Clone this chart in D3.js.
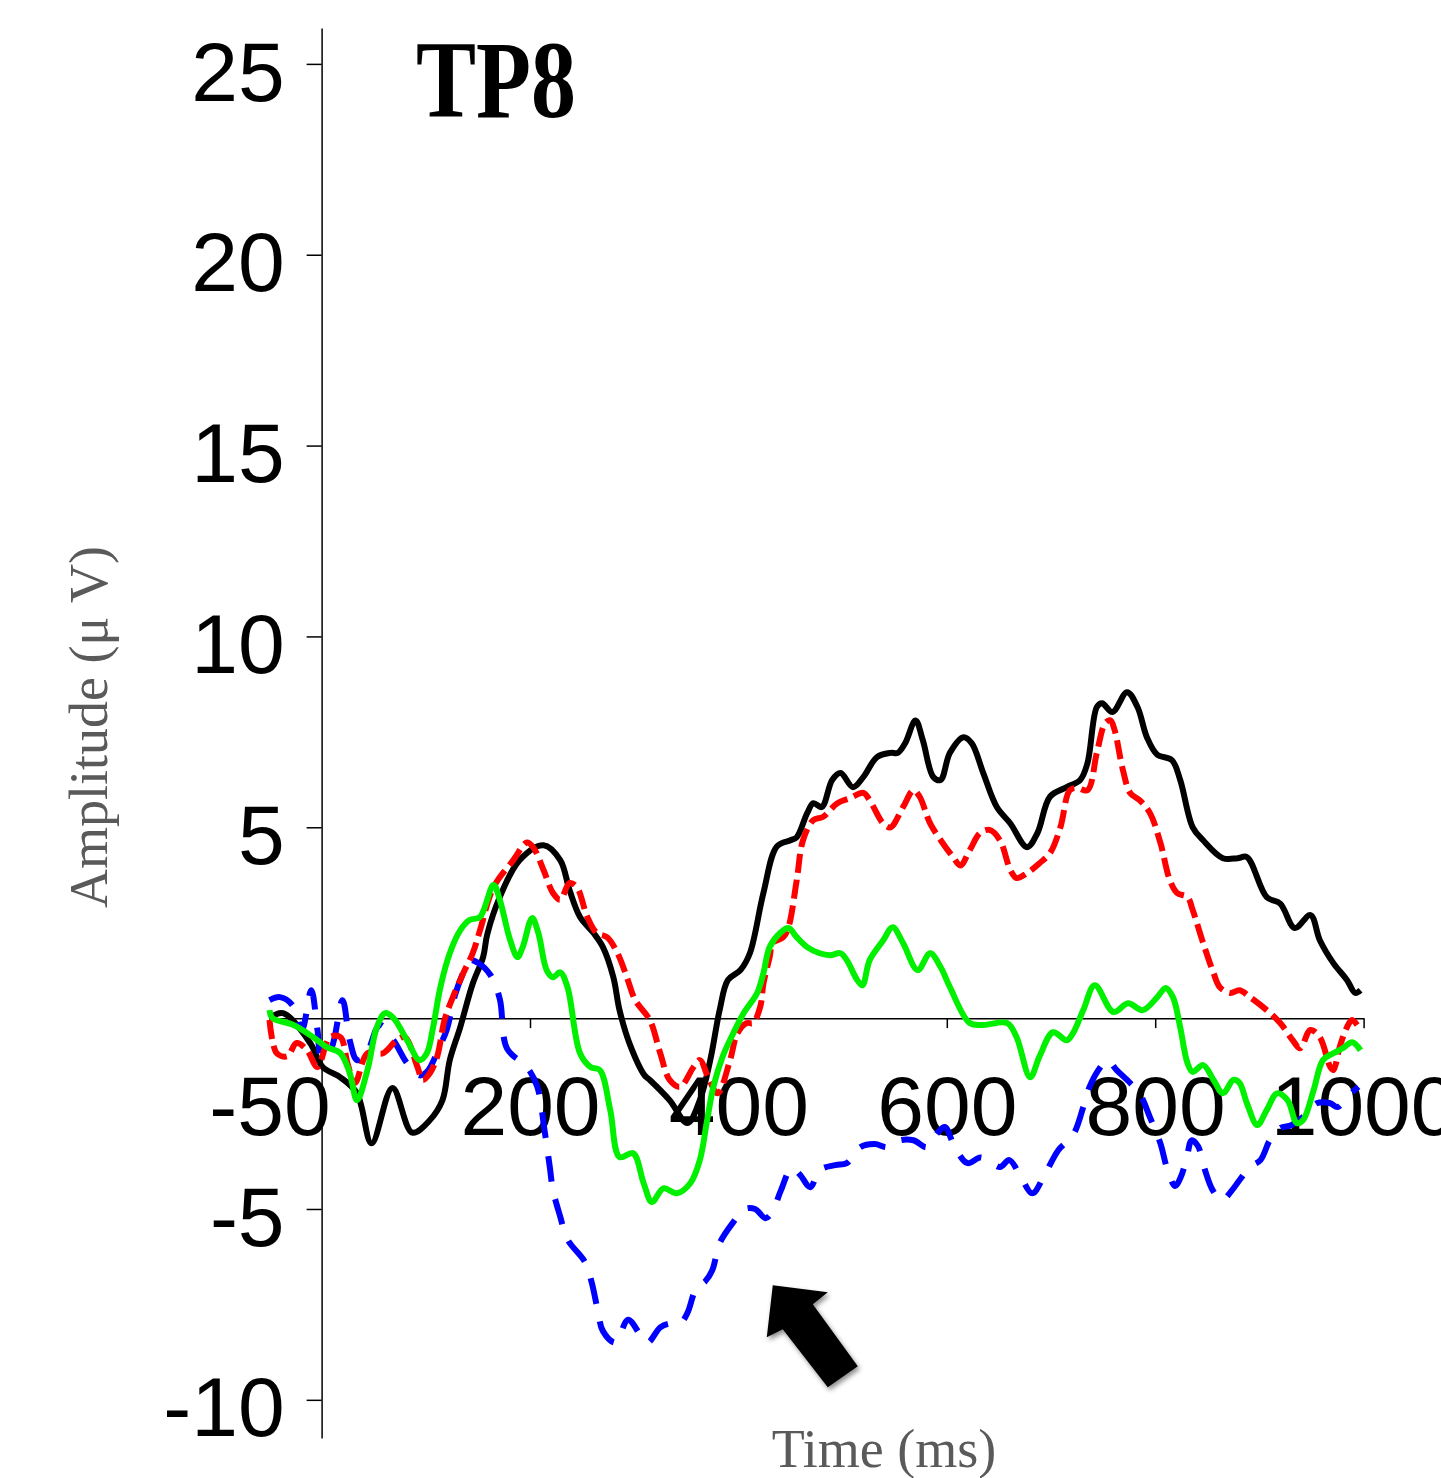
<!DOCTYPE html>
<html>
<head>
<meta charset="utf-8">
<script src="https://cdn.jsdelivr.net/npm/d3@7"></script>
<style>
  body { margin: 0; background: #fff; }
</style>
</head>
<body>
<div id="chart"></div>
<script>
// ERP waveforms at TP8, values as [time ms, amplitude µV]
const blackWave = [[-50,0.0],[-37,0.13],[-11,-0.65],[1,-1.28],[18,-1.55],[34,-1.97],[48,-3.28],[68,-1.83],[87,-3.0],[104,-2.67],[116,-2.15],[123,-1.1],[133,-0.24],[145,0.9],[155,1.6],[159,2.2],[171,3.17],[190,4.14],[213,4.53],[229,4.14],[238,3.35],[248,2.65],[261,2.23],[270,1.86],[280,1.07],[286,0.2],[296,-0.7],[310,-1.5],[315,-1.62],[334,-2.15],[351,-2.75],[363,-2.15],[373,-1.1],[382,0.21],[390,1.0],[402,1.26],[411,1.7],[424,3.28],[437,4.5],[450,4.66],[456,4.74],[466,5.37],[472,5.63],[480,5.53],[490,6.24],[498,6.42],[510,6.05],[520,6.32],[533,6.84],[546,6.95],[553,6.95],[560,7.2],[570,7.8],[577,7.28],[587,6.32],[594,6.24],[603,6.95],[616,7.36],[624,7.2],[635,6.42],[648,5.53],[661,5.1],[677,4.48],[687,4.85],[699,5.8],[715,6.05],[728,6.24],[735,6.68],[744,8.15],[749,8.25],[759,8.02],[773,8.54],[783,8.15],[792,7.36],[802,6.9],[816,6.76],[824,6.24],[836,5.0],[846,4.66],[865,4.19],[879,4.19],[888,4.22],[907,3.17],[920,3.0],[934,2.36],[949,2.7],[958,2.04],[971,1.44],[984,1.0],[992,0.66],[997,0.73]]

const redWave = [[-50,-0.05],[-43,-0.92],[-33,-1.0],[-24,-0.65],[-14,-0.84],[-4,-1.28],[8,-0.5],[18,-0.5],[25,-1.2],[32,-1.7],[44,-0.92],[59,-0.92],[72,-0.58],[80,-0.5],[92,-1.28],[97,-1.62],[104,-1.44],[111,-1.0],[118,-0.05],[126,0.55],[136,1.18],[145,1.7],[152,2.3],[165,3.43],[184,4.14],[197,4.6],[203,4.48],[213,3.88],[222,3.28],[229,3.1],[238,3.54],[245,3.43],[255,2.65],[264,2.23],[274,2.12],[284,1.7],[293,1.07],[301,0.47],[315,-0.05],[325,-0.92],[334,-1.62],[344,-1.8],[357,-1.28],[363,-1.1],[371,-1.55],[380,-1.97],[392,-1.1],[399,-0.4],[408,-0.13],[414,-0.13],[421,0.3],[424,0.9],[430,1.6],[433,1.97],[443,2.12],[448,2.38],[456,3.62],[462,4.66],[472,5.19],[481,5.27],[495,5.63],[507,5.76],[520,5.9],[526,5.71],[539,5.1],[546,5.0],[558,5.53],[568,5.97],[574,5.8],[584,5.1],[596,4.59],[606,4.22],[613,4.0],[622,4.4],[632,4.85],[641,4.93],[651,4.66],[661,3.88],[667,3.67],[677,3.8],[689,4.06],[699,4.32],[709,5.0],[718,5.97],[725,6.03],[735,5.97],[744,6.95],[752,7.73],[757,7.8],[761,7.55],[769,6.5],[776,5.9],[785,5.71],[795,5.37],[805,4.59],[814,3.62],[821,3.28],[831,3.17],[836,2.83],[846,1.97],[856,1.18],[862,0.81],[872,0.66],[881,0.73],[891,0.55],[907,0.21],[920,-0.13],[932,-0.58],[939,-0.79],[949,-0.31],[958,-0.5],[968,-1.28],[971,-1.36],[977,-0.76],[984,-0.24],[989,-0.05],[997,-0.31]]

const greenWave = [[-50,0.21],[-47,0],[-27,-0.18],[-8,-0.5],[5,-0.76],[18,-0.92],[27,-1.44],[34,-2.15],[44,-1.36],[53,-0.24],[61,0.13],[69,0],[82,-0.58],[94,-1.1],[101,-0.92],[107,-0.24],[114,0.81],[123,1.7],[133,2.3],[142,2.57],[152,2.65],[165,3.49],[171,3.1],[181,2.04],[188,1.6],[193,1.86],[202,2.62],[208,2.23],[216,1.26],[222,1.07],[229,1.2],[236,0.81],[248,-0.92],[258,-1.28],[267,-1.36],[277,-2.41],[286,-3.64],[299,-3.54],[309,-4.32],[317,-4.82],[328,-4.46],[341,-4.59],[354,-4.32],[363,-3.72],[370,-2.67],[376,-1.8],[385,-1.0],[395,-0.4],[405,0.13],[418,0.66],[424,1.18],[430,1.86],[440,2.23],[448,2.36],[456,2.12],[466,1.86],[478,1.7],[488,1.65],[498,1.7],[504,1.52],[514,1.0],[519,0.86],[526,1.52],[539,2.04],[548,2.38],[558,1.97],[572,1.26],[584,1.7],[594,1.34],[603,0.81],[622,-0.13],[635,-0.18],[658,-0.13],[667,-0.5],[680,-1.55],[689,-1.0],[702,-0.37],[715,-0.58],[721,-0.4],[731,0.21],[742,0.86],[760,0.16],[774,0.39],[788,0.21],[802,0.55],[810,0.79],[817,0.55],[824,-0.24],[831,-1.18],[836,-1.41],[846,-1.23],[856,-1.62],[865,-1.97],[875,-1.62],[881,-1.7],[888,-2.23],[898,-2.8],[907,-2.41],[917,-1.97],[927,-2.15],[936,-2.75],[942,-2.67],[952,-1.89],[961,-1.1],[971,-0.92],[980,-0.79],[989,-0.63],[997,-0.84]]

const blueWave = [[-50,0.47],[-40,0.55],[-28,0.34],[-19,-0.31],[-10,0.73],[-4,-0.3],[0,-1.0],[9,-0.8],[20,0.47],[27,-0.58],[34,-1.1],[42,-1.0],[56,-0.18],[69,-0.58],[82,-1.18],[94,-1.5],[101,-1.41],[114,-0.7],[120,-0.31],[128,0.6],[135,1.13],[142,1.52],[150,1.45],[162,1.13],[171,0.5],[178,-0.8],[197,-1.28],[207,-1.8],[214,-2.95],[219,-3.9],[222,-4.5],[229,-5.2],[236,-5.8],[253,-6.4],[259,-6.9],[265,-7.65],[270,-8.2],[282,-8.5],[294,-7.9],[306,-8.3],[313,-8.5],[325,-8.1],[334,-8.0],[344,-8.0],[351,-7.73],[360,-7.05],[368,-6.9],[375,-6.6],[382,-5.9],[395,-5.35],[406,-5.0],[416,-5.0],[426,-5.24],[432,-5.1],[441,-4.5],[451,-3.93],[459,-4.1],[469,-4.43],[478,-3.98],[493,-3.85],[504,-3.8],[517,-3.38],[531,-3.3],[543,-3.38],[555,-3.2],[568,-3.2],[581,-3.38],[591,-3.01],[598,-2.85],[608,-3.4],[620,-3.8],[632,-3.65],[641,-3.75],[651,-3.9],[660,-3.72],[670,-4.1],[682,-4.59],[694,-4.1],[707,-3.46],[721,-3.07],[731,-2.33],[737,-1.8],[747,-1.3],[754,-1.1],[763,-1.36],[776,-1.7],[785,-1.97],[795,-2.6],[805,-3.28],[811,-3.9],[819,-4.4],[824,-4.2],[830,-3.7],[835,-3.2],[841,-3.35],[848,-4.0],[855,-4.5],[864,-4.77],[874,-4.5],[881,-4.24],[891,-3.9],[901,-3.72],[910,-3.2],[920,-2.88],[931,-2.8],[946,-2.49],[955,-2.23],[968,-2.23],[975,-2.33],[984,-2.07],[995,-1.8]]

// tick labels (no label at 0 on the amplitude axis)
const xTicks = [-50, 200, 400, 600, 800, 1000]
const yTicks = [-10, -5, 5, 10, 15, 20, 25]

// where the arrow points (ms, µV)
const arrowAt = [433, -7.0]

const width = 1441, height = 1478

const svg = d3.select("#chart").append("svg")
    .attr("width", width)
    .attr("height", height)
    .style("font-family", "'Liberation Sans', Arial, sans-serif")

svg.append("rect").attr("width", width).attr("height", height).attr("fill", "#fff")

const x = d3.scaleLinear().domain([-50, 1000]).range([269.5, 1363.6])
const y = d3.scaleLinear().domain([-11, 25.94]).range([1438, 28])

// plain hyphen minus, no thousands comma
const fmt = d => String(d)

// y axis (on time zero)
const yAxis = svg.append("g")
    .attr("transform", `translate(${x(0)},0)`)
    .call(d3.axisLeft(y).tickValues(yTicks).tickFormat(fmt).tickSizeInner(15).tickSizeOuter(0).tickPadding(22))
yAxis.select(".domain").attr("stroke-width", 1.5)
yAxis.selectAll(".tick line").attr("stroke-width", 1.5)
yAxis.selectAll(".tick text")
    .attr("font-size", 84)
    .attr("dy", "0.43em")
    .attr("font-family", "'Liberation Sans', Arial, sans-serif")

// x axis (on amplitude zero)
const xAxis = svg.append("g")
    .attr("transform", `translate(0,${y(0)})`)
    .call(d3.axisBottom(x).tickValues(xTicks).tickFormat(fmt).tickSizeInner(10).tickSizeOuter(0).tickPadding(47))
xAxis.select(".domain").attr("stroke-width", 1.5)
xAxis.selectAll(".tick line").attr("stroke-width", 1.5)
xAxis.selectAll(".tick text")
    .attr("font-size", 84)
    .attr("font-family", "'Liberation Sans', Arial, sans-serif")

const line = d3.line()
    .x(d => x(d[0]))
    .y(d => y(d[1]))
    .curve(d3.curveCatmullRom.alpha(0.5))

const series = [
    { data: blackWave, color: "#000000", dash: null },
    { data: blueWave, color: "#0000ff", dash: "26,18" },
    { data: redWave, color: "#ff0000", dash: "19,7" },
    { data: greenWave, color: "#00f000", dash: null }
]

svg.append("g")
    .selectAll("path")
    .data(series)
    .join("path")
    .attr("d", d => line(d.data))
    .attr("fill", "none")
    .attr("stroke", d => d.color)
    .attr("stroke-width", 6)
    .attr("stroke-dasharray", d => d.dash)
    .attr("stroke-linejoin", "round")

// title
svg.append("text")
    .attr("x", 416)
    .attr("y", 117)
    .attr("font-family", "'Liberation Serif', 'Times New Roman', serif")
    .attr("font-weight", "bold")
    .attr("font-size", 110)
    .attr("textLength", 160)
    .attr("lengthAdjust", "spacingAndGlyphs")
    .text("TP8")

// axis titles
svg.append("text")
    .attr("transform", "translate(107,727) rotate(-90)")
    .attr("text-anchor", "middle")
    .attr("font-family", "'Liberation Serif', 'Times New Roman', serif")
    .attr("font-size", 54)
    .attr("fill", "#5a5a5a")
    .text("Amplitude (μ V)")

svg.append("text")
    .attr("x", 884)
    .attr("y", 1467)
    .attr("text-anchor", "middle")
    .attr("font-family", "'Liberation Serif', 'Times New Roman', serif")
    .attr("font-size", 54)
    .attr("fill", "#5a5a5a")
    .text("Time (ms)")

// arrow with a soft shadow
const defs = svg.append("defs")
defs.append("filter").attr("id", "shadow")
    .attr("x", "-30%").attr("y", "-30%").attr("width", "160%").attr("height", "160%")
    .append("feDropShadow")
    .attr("dx", 2).attr("dy", 3).attr("stdDeviation", 2.5)
    .attr("flood-color", "#000").attr("flood-opacity", 0.45)

const arrowShape = [[0, 0], [55, 7], [40, 19], [85, 81], [55, 102], [10, 44], [-6, 52]]
svg.append("path")
    .attr("transform", `translate(${x(arrowAt[0])},${y(arrowAt[1])})`)
    .attr("d", d3.line()(arrowShape) + "Z")
    .attr("fill", "#000")
    .attr("filter", "url(#shadow)")
</script>
</body>
</html>
